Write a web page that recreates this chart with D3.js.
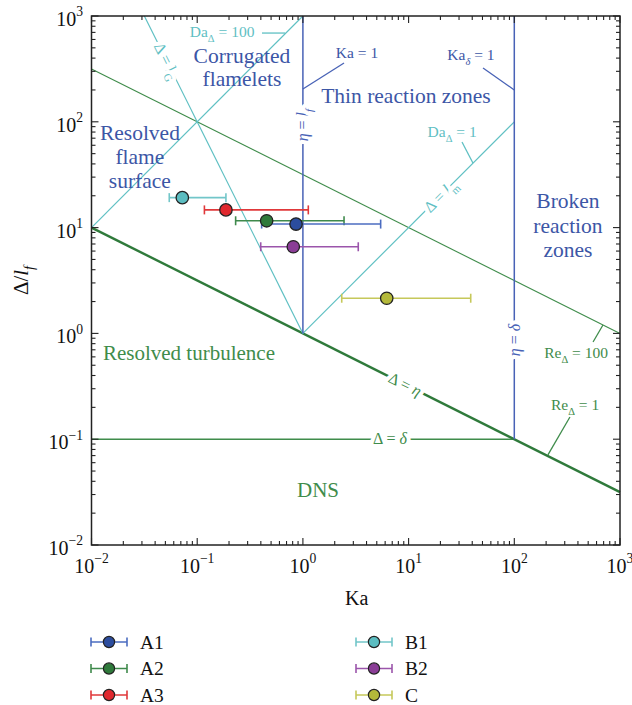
<!DOCTYPE html>
<html><head><meta charset="utf-8">
<script src="https://cdn.jsdelivr.net/npm/d3@7"></script>
<style>
body{margin:0;background:#fff}
</style>
</head><body>
<svg id="chart" width="632" height="705"></svg>
<script>
// ---- data -------------------------------------------------------------
const decades = [-2, -1, 0, 1, 2, 3];

// simulation cases: Karlovitz number (with range) and filter width Δ/l_f
const caseNames  = ["B1", "A3", "A2", "A1", "B2", "C"];
const caseKa     = [0.0723, 0.187, 0.454, 0.861, 0.811, 6.21];
const caseKaLow  = [0.0544, 0.117, 0.231, 0.407, 0.399, 2.33];
const caseKaHigh = [0.187, 1.125, 2.45, 5.44, 3.34, 38.7];
const caseDelta  = [19.2, 14.7, 11.6, 10.8, 6.59, 2.15];
const legendLeft  = ["A1", "A2", "A3"];
const legendRight = ["B1", "B2", "C"];

// regime boundaries as (Ka, Δ/l_f) polylines
const reDelta100 = [[1e-2, 316.2], [1e3, 1]];
const deltaEta   = [[1e-2, 10], [1e3, 0.03162]];
const deltaDelta = [[1e-2, 0.1], [1e2, 0.1]];
const etaLf      = [[1, 1], [1, 1000]];
const etaDelta   = [[100, 0.1], [100, 1000]];
const deltaLG    = [[0.03162, 1000], [1, 1]];
const daDelta100 = [[1e-2, 10], [1, 1000]];
const deltaLm    = [[1, 1], [100, 100]];

// ---- styling ----------------------------------------------------------
const FONT = '"Liberation Serif"';
const C = {
  blue: "#4862b6", blueText: "#3c56a6", cyan: "#5fc0c3", green: "#3f8c4b",
  greenDark: "#2f7a3b", axis: "#222"
};
const caseFill = {A1:"#2c4d9e", A2:"#2f7a3b", A3:"#e0282e", B1:"#5cbdc1", B2:"#8a3d96", C:"#b4b93a"};
const caseBar  = {A1:"#4b6cc0", A2:"#3f8a4c", A3:"#e0383a", B1:"#72c6c9", B2:"#9b55ab", C:"#c6c85a"};

const svg = d3.select("#chart");
const M = {left: 91.5, right: 620, top: 16, bottom: 545};
const x = d3.scaleLog().domain([1e-2, 1e3]).range([M.left, M.right]);
const y = d3.scaleLog().domain([1e-2, 1e3]).range([M.bottom, M.top]);

// write a text made of runs: {t, sub, sup, it}
function rich(sel, parts) {
  let shift = 0;
  parts.forEach(p => {
    const target = p.sub ? 0.3 : p.sup ? -0.48 : 0;
    const ts = sel.append("tspan").text(p.t);
    const d = target - shift;
    if (p.sub || p.sup) {
      // dy is measured in the tspan's own (smaller) font size
      ts.attr("font-size", "0.68em");
      if (d !== 0) ts.attr("dy", (d / 0.68) + "em");
    } else if (d !== 0) ts.attr("dy", d + "em");
    if (p.it) ts.style("font-style", "italic");
    shift = target;
  });
  return sel;
}

// ---- regime boundaries ------------------------------------------------
const line = d3.line().x(d => x(d[0])).y(d => y(d[1]));
const g = svg.append("g");
function boundary(pts, color, w) {
  g.append("path").attr("d", line(pts)).attr("fill", "none")
    .attr("stroke", color).attr("stroke-width", w);
}
boundary(reDelta100, C.green, 1.1);
boundary(deltaDelta, C.green, 1.6);
boundary(deltaEta, C.greenDark, 2.4);
boundary(deltaLG, C.cyan, 1.2);
boundary(daDelta100, C.cyan, 1.2);
boundary(deltaLm, C.cyan, 1.2);
boundary(etaLf, C.blue, 1.5);
boundary(etaDelta, C.blue, 1.5);

// leader lines for boundary names
function leader(p0, p1, color) {
  g.append("line").attr("x1", x(p0[0])).attr("y1", y(p0[1]))
    .attr("x2", x(p1[0])).attr("y2", y(p1[1]))
    .attr("stroke", color).attr("stroke-width", 1.3);
}
function label(at, parts, color, size) {
  const t = svg.append("text").attr("x", x(at[0])).attr("y", y(at[1]))
    .attr("fill", color).attr("font-size", size).attr("text-anchor", "middle");
  return rich(t, parts);
}
leader([1, 204], [2.45, 360], C.blue);
label([3.25, 401], [{t:"Ka = 1"}], C.blueText, 15.5);
leader([100, 200], [50.6, 323], C.blue);
label([38.9, 384], [{t:"Ka"}, {t:"δ", sub:true, it:true}, {t:" = 1"}], C.blueText, 15.5);
leader([0.41, 690], [0.678, 690], C.cyan);
label([0.172, 633], [{t:"Da"}, {t:"Δ", sub:true}, {t:" = 100"}], C.cyan, 15.5);
leader([32, 64.4], [40.6, 40.8], C.cyan);
label([25.8, 71.8], [{t:"Da"}, {t:"Δ", sub:true}, {t:" = 1"}], C.cyan, 15.5);
leader([556, 0.83], [690, 1.2], C.green);
label([384, 0.585], [{t:"Re"}, {t:"Δ", sub:true}, {t:" = 100"}], C.green, 15.5);
leader([336, 0.162], [208, 0.071], C.green);
label([376, 0.189], [{t:"Re"}, {t:"Δ", sub:true}, {t:" = 1"}], C.green, 15.5);

// labels written along a boundary, with a white halo cutting the line
function inline(pts, at, parts, color) {
  const dx = x(pts[1][0]) - x(pts[0][0]), dy = y(pts[1][1]) - y(pts[0][1]);
  const ang = Math.atan2(dy, dx) * 180 / Math.PI;
  const px = x(at[0]), py = y(at[1]);
  const t = svg.append("text").attr("transform", `translate(${px},${py}) rotate(${ang})`)
    .attr("text-anchor", "middle").attr("dy", "0.33em")
    .attr("fill", color).attr("font-size", 16)
    .attr("stroke", "#fff").attr("stroke-width", 8).attr("stroke-linejoin", "round")
    .attr("paint-order", "stroke");
  rich(t, parts);
}
inline(deltaLG, [0.0516, 375], [{t:"Δ = l"}, {t:"G", sub:true}], C.cyan);
inline(etaLf, [1, 93], [{t:"η", it:true}, {t:" = "}, {t:"l", it:true}, {t:"f", sub:true, it:true}], C.blue);
inline(deltaLm, [20, 20], [{t:"Δ = "}, {t:"l", it:true}, {t:"m", sub:true}], C.cyan);
inline(deltaEta, [9.25, 0.329], [{t:"Δ = "}, {t:"η", it:true}], C.green);
inline(deltaDelta, [6.67, 0.1], [{t:"Δ = "}, {t:"δ", it:true}], C.green);
inline(etaDelta, [100, 0.867], [{t:"η", it:true}, {t:" = "}, {t:"δ", it:true}], C.blue);

// regime names
function block(at, lines, color, size, gap) {
  const t = svg.append("text").attr("x", x(at[0])).attr("y", y(at[1]))
    .attr("fill", color).attr("font-size", size).attr("text-anchor", "middle");
  lines.forEach((s, i) => t.append("tspan").attr("x", x(at[0]))
    .attr("dy", i === 0 ? 0 : gap).text(s));
}
block([0.265, 360], ["Corrugated", "flamelets"], C.blueText, 21.5, 23);
block([0.0287, 67.3], ["Resolved", "flame", "surface"], C.blueText, 21.5, 24);
block([9.44, 151], ["Thin reaction zones"], C.blueText, 21.5, 0);
block([322, 15.3], ["Broken", "reaction", "zones"], C.blueText, 21.5, 24.5);
block([0.0836, 0.561], ["Resolved turbulence"], C.green, 21, 0);
block([1.39, 0.0284], ["DNS"], C.green, 21, 0);

// ---- cases ------------------------------------------------------------
const cases = caseNames.map((n, i) => ({n, ka: caseKa[i], lo: caseKaLow[i], hi: caseKaHigh[i], d: caseDelta[i]}));
const pg = svg.append("g");
cases.forEach(c => {
  const yy = y(c.d), col = caseBar[c.n];
  pg.append("line").attr("x1", x(c.lo)).attr("x2", x(c.hi)).attr("y1", yy).attr("y2", yy)
    .attr("stroke", col).attr("stroke-width", 1.6);
  [c.lo, c.hi].forEach(v => pg.append("line").attr("x1", x(v)).attr("x2", x(v))
    .attr("y1", yy - 4.5).attr("y2", yy + 4.5).attr("stroke", col).attr("stroke-width", 1.6));
});
cases.forEach(c => {
  pg.append("circle").attr("cx", x(c.ka)).attr("cy", y(c.d)).attr("r", 6.2)
    .attr("fill", caseFill[c.n]).attr("stroke", "#222").attr("stroke-width", 1.3);
});

// ---- axes frame and ticks ---------------------------------------------
const ax = svg.append("g");
ax.append("rect").attr("x", M.left).attr("y", M.top)
  .attr("width", M.right - M.left).attr("height", M.bottom - M.top)
  .attr("fill", "none").attr("stroke", C.axis).attr("stroke-width", 1.5);
const tickVals = [];
decades.forEach(e => {
  for (let m = 1; m <= 9; m++) {
    const v = m * Math.pow(10, e);
    if (v <= 1e3 * 1.0001) tickVals.push({v, major: m === 1});
  }
});
tickVals.forEach(t => {
  const L = t.major ? 7 : 4;
  const px = x(t.v), py = y(t.v);
  ax.append("line").attr("x1", px).attr("x2", px).attr("y1", M.bottom).attr("y2", M.bottom - L);
  ax.append("line").attr("x1", px).attr("x2", px).attr("y1", M.top).attr("y2", M.top + L);
  ax.append("line").attr("y1", py).attr("y2", py).attr("x1", M.left).attr("x2", M.left + L);
  ax.append("line").attr("y1", py).attr("y2", py).attr("x1", M.right).attr("x2", M.right - L);
});
ax.selectAll("line").attr("stroke", C.axis).attr("stroke-width", 1.1);

const expText = e => (e < 0 ? "\u2212" : "") + Math.abs(e);
decades.forEach(e => {
  const v = Math.pow(10, e);
  const tx = svg.append("text").attr("x", x(v)).attr("y", M.bottom + 28)
    .attr("text-anchor", "middle").attr("font-size", 20).attr("fill", "#111");
  rich(tx, [{t:"10"}, {t:expText(e), sup:true}]);
  const ty = svg.append("text").attr("x", 83).attr("y", y(v) + 10)
    .attr("text-anchor", "end").attr("font-size", 20).attr("fill", "#111");
  rich(ty, [{t:"10"}, {t:expText(e), sup:true}]);
});
svg.append("text").attr("x", (M.left + M.right) / 2 + 1).attr("y", 605)
  .attr("text-anchor", "middle").attr("font-size", 20).attr("fill", "#111").text("Ka");
const yl = svg.append("text").attr("transform", `translate(28,${(M.top + M.bottom) / 2}) rotate(-90)`)
  .attr("text-anchor", "middle").attr("font-size", 21).attr("fill", "#111");
rich(yl, [{t:"Δ/"}, {t:"l", it:true}, {t:"f", sub:true, it:true}]);

// ---- legend -----------------------------------------------------------
function legendItem(name, lx, ly) {
  const lg = svg.append("g");
  const col = caseBar[name];
  lg.append("line").attr("x1", lx).attr("x2", lx + 36).attr("y1", ly).attr("y2", ly)
    .attr("stroke", col).attr("stroke-width", 1.6);
  [lx, lx + 36].forEach(v => lg.append("line").attr("x1", v).attr("x2", v)
    .attr("y1", ly - 4.5).attr("y2", ly + 4.5).attr("stroke", col).attr("stroke-width", 1.6));
  lg.append("circle").attr("cx", lx + 18).attr("cy", ly).attr("r", 5.6)
    .attr("fill", caseFill[name]).attr("stroke", "#222").attr("stroke-width", 1.2);
  lg.append("text").attr("x", lx + 49).attr("y", ly + 6.5).attr("font-size", 19.5)
    .attr("fill", "#111").text(name);
}
legendLeft.forEach((n, i) => legendItem(n, 91, 642 + i * 26.5));
legendRight.forEach((n, i) => legendItem(n, 356, 642 + i * 26.5));

// serif face for every label
svg.selectAll("text").style("font-family", FONT);
</script>
</body></html>
